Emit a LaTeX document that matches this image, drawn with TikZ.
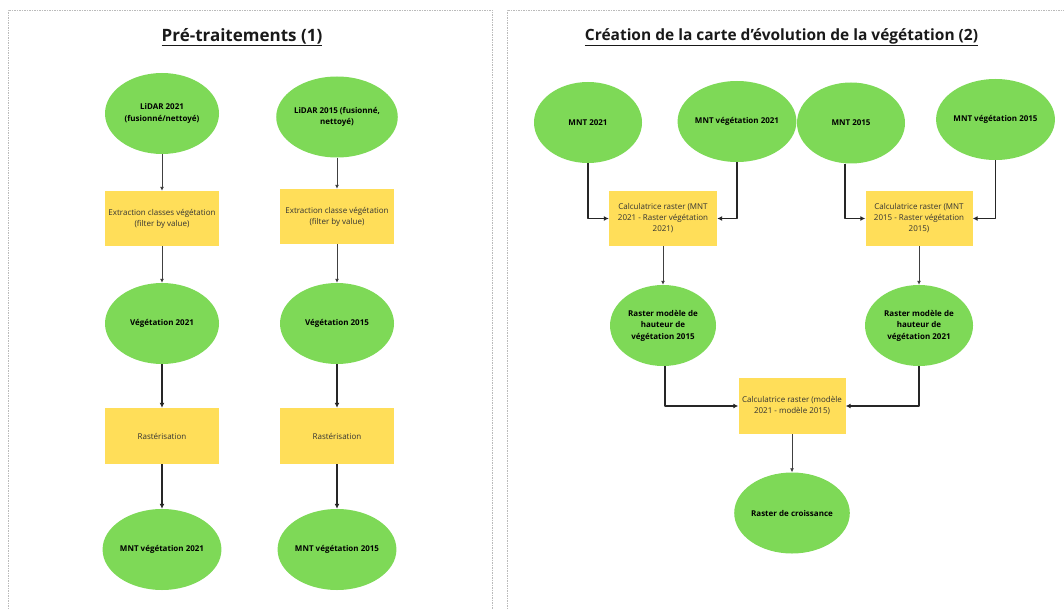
\documentclass[tikz,border=0pt]{standalone}
\usepackage{fontspec}
\setmainfont{Open Sans}
\usetikzlibrary{shapes.geometric,arrows.meta}
\definecolor{vgreen}{HTML}{7ED957}
\definecolor{vyellow}{HTML}{FFDE59}
\definecolor{panelgray}{HTML}{BBBBBB}
\begin{document}
\begin{tikzpicture}[x=1pt,y=-1pt,
  ell/.style={ellipse, fill=vgreen, inner sep=0pt, minimum width=114pt, minimum height=81pt, align=center, font=\fontsize{8}{11.5}\selectfont\bfseries},
  procbox/.style={rectangle, fill=vyellow, inner sep=0pt, minimum width=114pt, minimum height=55pt, align=center, font=\fontsize{8}{11}\selectfont, text=black!80},
  arrthin/.style={-{Latex[length=4pt,width=4pt]}, line width=0.8pt, draw=black!75},
  arrthick/.style={-{Latex[length=5pt,width=5pt]}, line width=1.5pt, draw=black!85, line join=round},
  panelframe/.style={draw=panelgray, line width=0.6pt, dash pattern=on 1.5pt off 1pt},
  ttl/.style={font=\fontsize{17}{20}\selectfont\bfseries, text=black!90}
]
\useasboundingbox (0,0) rectangle (1064,609);
% panels
\draw[panelframe] (8,609) -- (8,10) -- (492,10) -- (492,609);
\draw[panelframe] (507,609) -- (507,10) -- (1064,10);
% titles
\node[ttl] (t1) at (242,37) {\underline{Pré-traitements (1)}};
\node[ttl, font=\fontsize{15.5}{19}\selectfont\bfseries] (t2) at (781.5,37) {\underline{Création de la carte d’évolution de la végétation (2)}};
% left panel
\node[ell] (lid21) at (162,113.5) {LiDAR 2021\\(fusionné/nettoyé)};
\node[ell] (lid15) at (337,117) {LiDAR 2015 (fusionné,\\nettoyé)};
\node[procbox] (ext21) at (162,218.5) {Extraction classes végétation\\(filter by value)};
\node[procbox] (ext15) at (337,216.5) {Extraction classe végétation\\(filter by value)};
\node[ell] (veg21) at (162,323.5) {Végétation 2021};
\node[ell] (veg15) at (337,323.5) {Végétation 2015};
\node[procbox, minimum height=56pt] (ras21) at (162,436) {Rastérisation};
\node[procbox, minimum height=56pt] (ras15) at (337,436) {Rastérisation};
\node[ell] (mv21) at (162,549.5) {MNT végétation 2021};
\node[ell] (mv15) at (337,549.5) {MNT végétation 2015};
% right panel
\node[ell, minimum width=108pt] (mnt21) at (588,122.5) {MNT 2021};
\node[ell, minimum width=108pt] (mntv21) at (737,121.5) {MNT végétation 2021};
\node[ell, minimum width=108pt] (mnt15) at (851,123) {MNT 2015};
\node[ell, minimum width=108pt] (mntv15) at (995.5,119.5) {MNT végétation 2015};
\node[procbox, minimum width=108pt] (calc21) at (663,218.5) {Calculatrice raster (MNT\\2021 - Raster végétation\\2021)};
\node[procbox, minimum width=107pt] (calc15) at (919,218.5) {Calculatrice raster (MNT\\2015 - Raster végétation\\2015)};
\node[ell, minimum width=106pt] (rm15) at (663,325.5) {Raster modèle de\\hauteur de\\végétation 2015};
\node[ell, minimum width=108pt] (rm21) at (919,325.5) {Raster modèle de\\hauteur de\\végétation 2021};
\node[procbox, minimum width=107pt, minimum height=56pt] (calc3) at (792,406) {Calculatrice raster (modèle\\2021 - modèle 2015)};
\node[ell, minimum width=108pt] (croi) at (792,513) {Raster de croissance};
% left connectors
\draw[arrthin] (lid21) -- (ext21);
\draw[arrthin] (lid15) -- (ext15);
\draw[arrthin] (ext21) -- (veg21);
\draw[arrthin] (ext15) -- (veg15);
\draw[arrthick] (veg21) -- (ras21);
\draw[arrthick] (veg15) -- (ras15);
\draw[arrthick] (ras21) -- (mv21);
\draw[arrthick] (ras15) -- (mv15);
% right connectors
\draw[arrthick] (mnt21.south) |- (calc21.west);
\draw[arrthick] (mntv21.south) |- (calc21.east);
\draw[arrthick] ([xshift=-6pt]mnt15.south) |- (calc15.west);
\draw[arrthick] (mntv15.south) |- (calc15.east);
\draw[arrthin] (calc21) -- (rm15);
\draw[arrthin] (calc15) -- (rm21);
\draw[arrthick] ([xshift=2pt]rm15.south) |- (calc3.west);
\draw[arrthick] (rm21.south) |- (calc3.east);
\draw[arrthin] (calc3) -- (croi);
\end{tikzpicture}
\end{document}
